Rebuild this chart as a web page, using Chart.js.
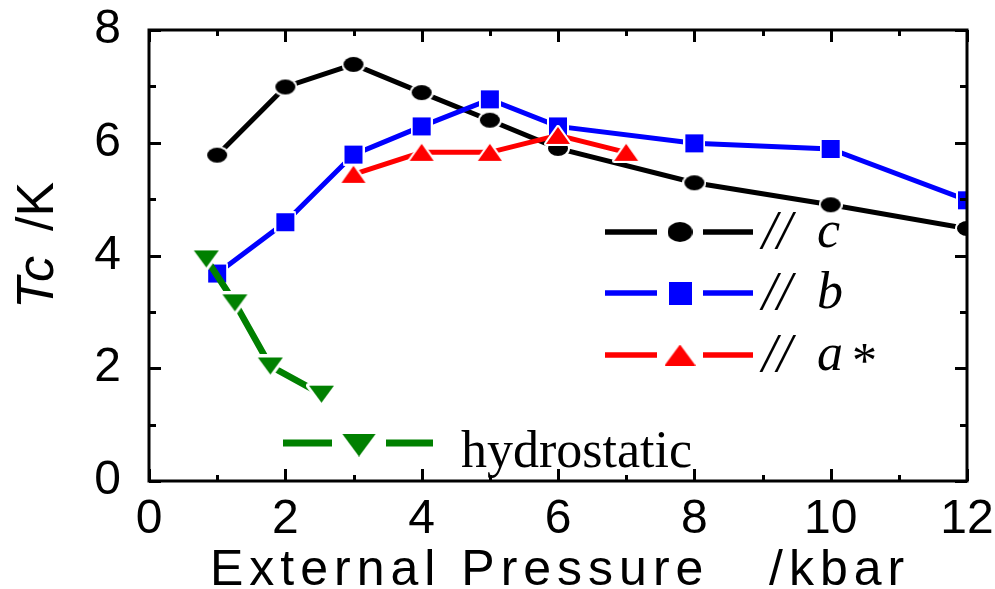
<!DOCTYPE html>
<html>
<head>
<meta charset="utf-8">
<script src="https://cdn.jsdelivr.net/npm/chart.js@4/dist/chart.umd.min.js"></script>
<style>
  html, body { margin: 0; padding: 0; background: #fff; }
  canvas { display: block; }
</style>
</head>
<body>
<canvas id="tcChart" width="995" height="589"></canvas>
<script>
// data (pressure in kbar, Tc in K)
const pressureC = [1, 2, 3, 4, 5, 6, 8, 10, 12];
const tcC       = [5.78, 6.99, 7.39, 6.89, 6.4, 5.9, 5.29, 4.9, 4.48];

const pressureB = [1, 2, 3, 4, 5, 6, 8, 10, 12];
const tcB       = [3.68, 4.59, 5.79, 6.29, 6.77, 6.29, 5.99, 5.89, 4.98];

const pressureA = [3, 4, 5, 6, 7];
const tcA       = [5.44, 5.83, 5.83, 6.13, 5.83];

const pressureHydro = [0.84, 1.26, 1.78, 2.53];
const tcHydro       = [3.94, 3.16, 2.04, 1.54];

const seriesLabels = ["// c", "// b", "// a *", "hydrostatic"];
const xTicks = [0, 2, 4, 6, 8, 10, 12];
const yTicks = [0, 2, 4, 6, 8];

const SANS = "'Liberation Sans', Arial, sans-serif";
const SERIF = "'Liberation Serif', 'Times New Roman', serif";

// small canvases used as point markers (white rim like the original)
function makeMarker(shape, w, h, color, rim) {
    const c = document.createElement("canvas");
    c.width = Math.ceil(w + rim * 2);
    c.height = Math.ceil(h + rim * 2);
    const g = c.getContext("2d");
    g.translate(rim, rim);
    g.beginPath();
    if (shape === "ellipse") {
        g.ellipse(w / 2, h / 2, w / 2, h / 2, 0, 0, Math.PI * 2);
    } else if (shape === "square") {
        g.rect(0, 0, w, h);
    } else if (shape === "up") {
        g.moveTo(w / 2, 0); g.lineTo(w, h); g.lineTo(0, h); g.closePath();
    } else {
        g.moveTo(0, 0); g.lineTo(w, 0); g.lineTo(w / 2, h); g.closePath();
    }
    if (rim > 0) {
        g.lineJoin = "round";
        g.lineWidth = rim * 2;
        g.strokeStyle = "#fff";
        g.stroke();
    }
    g.fillStyle = color;
    g.fill();
    return c;
}

const mkC = makeMarker("ellipse", 20, 15, "#000", 2);
const mkB = makeMarker("square", 18, 18, "#0000ff", 2);
const mkA = makeMarker("up", 24, 17, "#ff0000", 2);
const mkH = makeMarker("down", 25, 17, "#008000", 3);

function toPoints(xs, ys) {
    return xs.map((x, i) => ({ x: x, y: ys[i] }));
}

// frame, inward ticks, axis titles and the hand placed legend
const decorPlugin = {
    id: "decor",
    afterDraw(chart) {
        const ctx = chart.ctx;
        const xs = chart.scales.x, ys = chart.scales.y;
        const a = chart.chartArea;
        ctx.save();
        ctx.strokeStyle = "#000";
        ctx.lineWidth = 3;
        ctx.lineCap = "butt";
        ctx.beginPath();
        for (let v = xs.min; v <= xs.max; v++) {
            const px = Math.round(xs.getPixelForValue(v)) + 0.5;
            const len = v % 2 === 0 ? 12 : 6;
            ctx.moveTo(px, a.bottom); ctx.lineTo(px, a.bottom - len);
            ctx.moveTo(px, a.top); ctx.lineTo(px, a.top + len);
        }
        for (let v = ys.min; v <= ys.max; v++) {
            const py = Math.round(ys.getPixelForValue(v)) + 0.5;
            const len = v % 2 === 0 ? 12 : 7;
            ctx.moveTo(a.left, py); ctx.lineTo(a.left + len, py);
            ctx.moveTo(a.right, py); ctx.lineTo(a.right - len, py);
        }
        ctx.stroke();
        ctx.strokeRect(a.left, a.top, a.right - a.left, a.bottom - a.top);

        ctx.fillStyle = "#000";
        ctx.textBaseline = "alphabetic";

        // x title, wide tracking
        ctx.font = "50px " + SANS;
        let tx = 210;
        for (const ch of "External Pressure   /kbar") {
            ctx.fillText(ch, tx, 585);
            tx += ctx.measureText(ch).width + 6;
        }

        // y title, rotated
        ctx.save();
        ctx.translate(53, 309);
        ctx.rotate(-Math.PI / 2);
        ctx.font = "italic 52px " + SANS;
        ctx.fillText("Tc", 0, 0);
        ctx.font = "52px " + SANS;
        ctx.fillText("/K", 78, 0);
        ctx.restore();

        // legend
        const rows = [
            { y: 232, color: "#000", mk: makeMarker("ellipse", 25, 20, "#000", 0), label: "c", star: false },
            { y: 293, color: "#0000ff", mk: makeMarker("square", 23, 23, "#0000ff", 0), label: "b", star: false },
            { y: 355, color: "#ff0000", mk: makeMarker("up", 31, 21, "#ff0000", 0), label: "a", star: true }
        ];
        ctx.lineWidth = 5.5;
        rows.forEach(r => {
            ctx.strokeStyle = r.color;
            ctx.beginPath();
            ctx.moveTo(605, r.y); ctx.lineTo(657, r.y);
            ctx.moveTo(703, r.y); ctx.lineTo(753, r.y);
            ctx.stroke();
            ctx.drawImage(r.mk, 680 - r.mk.width / 2, r.y - r.mk.height / 2);
            ctx.fillStyle = "#000";
            ctx.font = "italic 54px " + SERIF;
            ctx.fillText("//", 762, r.y + 16);
            ctx.font = "italic 52px " + SERIF;
            ctx.fillText(r.label, 817, r.y + 15);
            if (r.star) {
                ctx.font = "50px " + SERIF;
                ctx.fillText("*", 852, r.y + 22);
            }
        });

        ctx.strokeStyle = "#008000";
        ctx.lineWidth = 7;
        ctx.beginPath();
        ctx.moveTo(283, 443); ctx.lineTo(332, 443);
        ctx.moveTo(386, 443); ctx.lineTo(433, 443);
        ctx.stroke();
        const gm = makeMarker("down", 34, 23, "#008000", 0);
        ctx.drawImage(gm, 359 - gm.width / 2, 445 - gm.height / 2);
        ctx.fillStyle = "#000";
        ctx.font = "52px " + SERIF;
        ctx.fillText(seriesLabels[3], 461, 467);
        ctx.restore();
    }
};

function lineSet(label, xs, ys, color, width, marker, order) {
    return {
        label: label,
        data: toPoints(xs, ys),
        borderColor: color,
        backgroundColor: color,
        borderWidth: width,
        pointStyle: marker,
        pointRadius: 10,
        pointHoverRadius: 10,
        tension: 0,
        clip: 0,
        order: order
    };
}

new Chart(document.getElementById("tcChart"), {
    type: "line",
    data: {
        datasets: [
            lineSet(seriesLabels[0], pressureC, tcC, "#000", 5, mkC, 4),
            lineSet(seriesLabels[1], pressureB, tcB, "#0000ff", 5, mkB, 3),
            lineSet(seriesLabels[2], pressureA, tcA, "#ff0000", 5, mkA, 2),
            lineSet(seriesLabels[3], pressureHydro, tcHydro, "#008000", 6.5, mkH, 1)
        ]
    },
    options: {
        responsive: false,
        animation: false,
        devicePixelRatio: 1,
        events: [],
        layout: { padding: { top: 30, right: 28, left: 0, bottom: 0 } },
        plugins: {
            legend: { display: false },
            tooltip: { enabled: false }
        },
        scales: {
            x: {
                type: "linear",
                min: 0,
                max: 12,
                grid: { display: false },
                border: { display: false },
                afterBuildTicks: s => { s.ticks = xTicks.map(v => ({ value: v })); },
                afterFit: s => { s.height = 108; s.paddingLeft = 0; s.paddingRight = 0; },
                ticks: {
                    color: "#000",
                    padding: 2,
                    maxRotation: 0,
                    font: { family: SANS, size: 48 }
                }
            },
            y: {
                type: "linear",
                min: 0,
                max: 8,
                grid: { display: false },
                border: { display: false },
                afterBuildTicks: s => { s.ticks = yTicks.map(v => ({ value: v })); },
                afterFit: s => { s.width = 149; s.paddingTop = 0; s.paddingBottom = 0; },
                ticks: {
                    color: "#000",
                    padding: 20,
                    font: { family: SANS, size: 48 }
                }
            }
        }
    },
    plugins: [decorPlugin]
});
</script>
</body>
</html>
